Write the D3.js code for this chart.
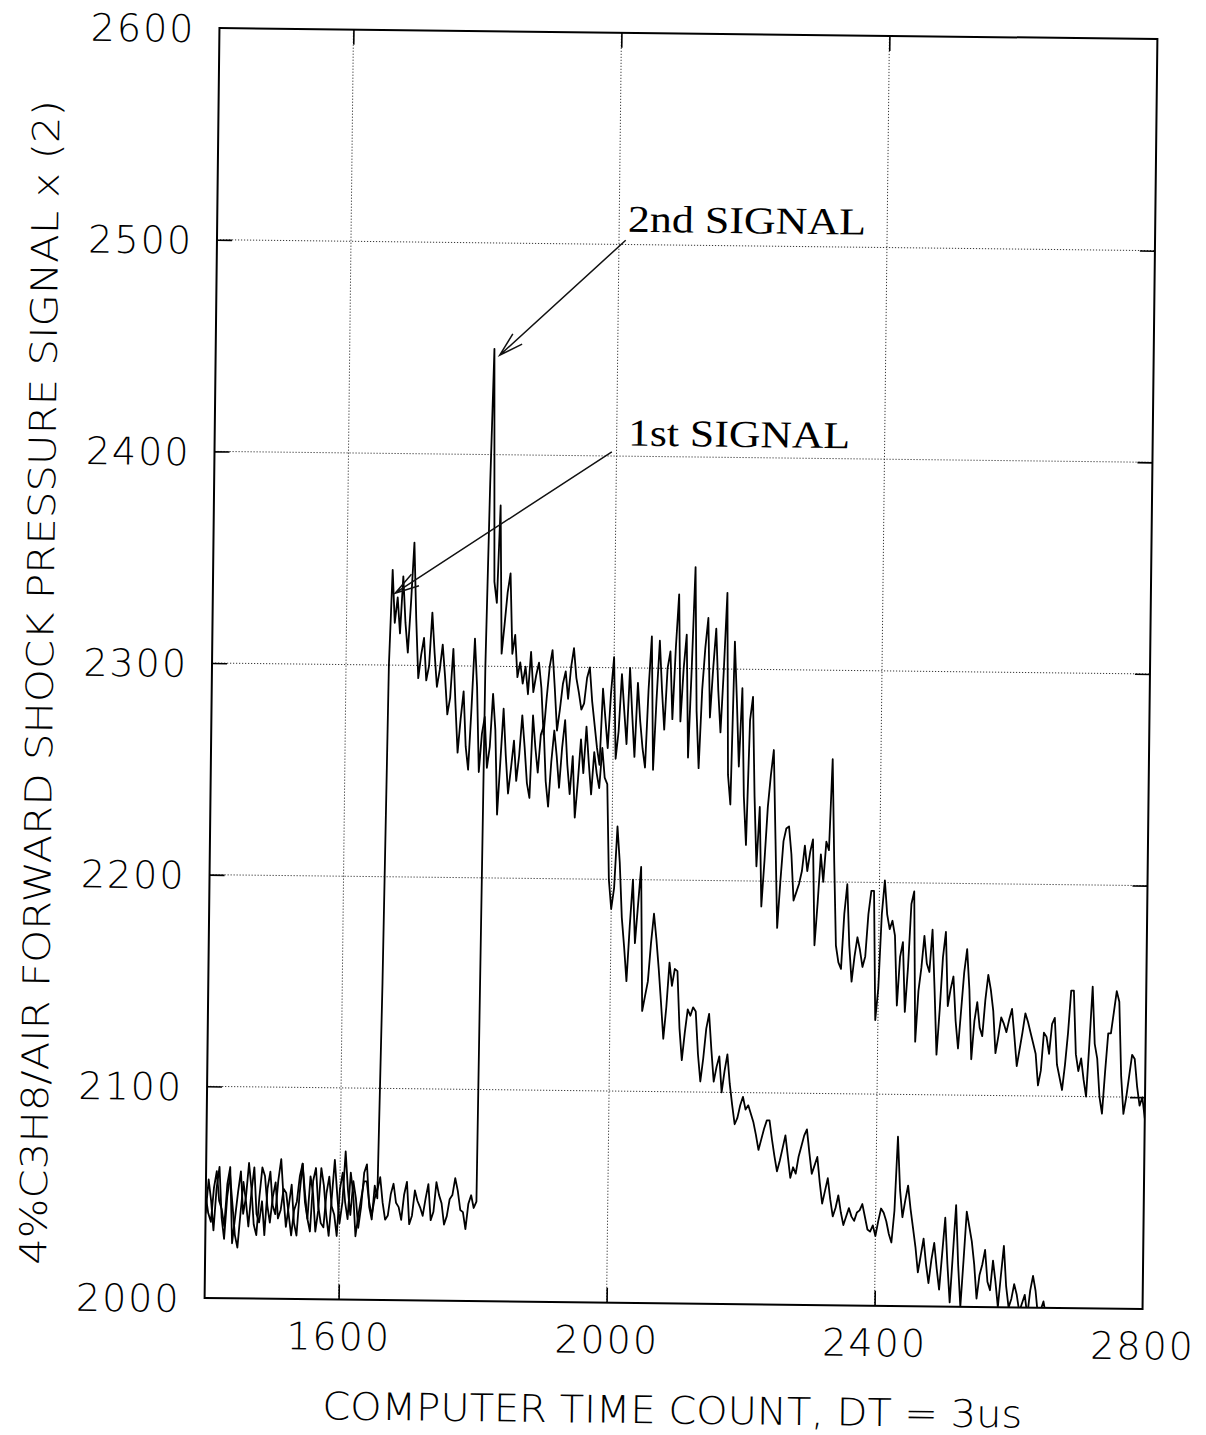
<!DOCTYPE html>
<html>
<head>
<meta charset="utf-8">
<script src="https://cdn.jsdelivr.net/npm/d3@7"></script>
<style>
  html, body { margin: 0; padding: 0; background: #fff; }
  svg { display: block; }
  .plot-font { font-family: "DejaVu Sans", "Liberation Sans", sans-serif; font-weight: 200; fill: #000; }
  .note-font { font-family: "Liberation Serif", "DejaVu Serif", serif; fill: #000; }
</style>
</head>
<body>
<svg id="chart" width="1206" height="1435"></svg>
<script>
// Sampling of the time-count axis used by both records
const timeStart = 1400;
const timeStep = 4;

// Pressure record of the 1st gauge (computer counts, x2), one row per 40 counts
const firstSignal = [
  2040, 2056, 2046, 2032, 2052, 2062, 2038, 2028, 2048, 2058,
  2044, 2030, 2024, 2040, 2055, 2046, 2034, 2050, 2062, 2040,
  2036, 2046, 2030, 2052, 2060, 2044, 2040, 2056, 2066, 2048,
  2034, 2044, 2054, 2036, 2030, 2050, 2064, 2046, 2038, 2058,
  2050, 2032, 2042, 2062, 2054, 2040, 2030, 2048, 2066, 2050,
  2036, 2046, 2070, 2052, 2040, 2056, 2048, 2034, 2044, 2060,
  2064, 2044, 2038, 2054, 2048, 2150, 2300, 2345, 2320, 2332,
  2315, 2342, 2320, 2306, 2330, 2358, 2322, 2294, 2305, 2313,
  2293, 2300, 2325, 2306, 2290, 2298, 2310, 2295, 2277, 2285,
  2308, 2282, 2259, 2275, 2288, 2262, 2251, 2280, 2313, 2290,
  2250, 2268, 2276, 2252, 2262, 2287, 2270, 2230, 2255, 2280,
  2258, 2240, 2252, 2265, 2246, 2258, 2277, 2262, 2245, 2238,
  2277, 2262, 2250, 2268, 2272, 2246, 2234, 2255, 2270, 2258,
  2243, 2262, 2275, 2254, 2240, 2258, 2229, 2246, 2266, 2250,
  2272, 2255, 2240, 2260, 2250, 2243, 2262, 2248, 2245, 2200,
  2186, 2196, 2225, 2208, 2182, 2168, 2152, 2178, 2200, 2170,
  2188, 2206, 2138, 2145, 2152, 2170, 2184, 2172, 2158, 2142,
  2125, 2140, 2161, 2150, 2158, 2157, 2130, 2115, 2128, 2139,
  2136, 2140, 2138, 2118, 2105, 2116, 2130, 2137, 2120, 2105,
  2112, 2117, 2100, 2110, 2118, 2104, 2094, 2085, 2088, 2094,
  2098, 2092, 2094, 2090, 2086, 2080, 2073, 2078, 2083, 2087,
  2087, 2078, 2070, 2063, 2068, 2074, 2080, 2070, 2060, 2065,
  2062, 2070, 2075, 2080, 2083, 2072, 2062, 2066, 2070, 2058,
  2048, 2054, 2060, 2050, 2042, 2046, 2052, 2044, 2038, 2042,
  2046, 2042, 2040, 2044, 2045, 2048, 2042, 2036, 2035, 2038,
  2033, 2040, 2046, 2044, 2040, 2034, 2030, 2045, 2080, 2055,
  2042, 2050, 2057, 2046, 2037, 2028, 2016, 2024, 2032, 2020,
  2011, 2022, 2030, 2018, 2008, 2025, 2042, 2020, 2002, 2025,
  2048, 2020, 2000, 2022, 2045, 2038, 2031, 2020, 2004, 2015,
  2020, 2027, 2012, 2008, 2022, 2012, 2000, 2015, 2029, 2010,
  2000, 2004, 2011, 2006, 1998, 2002, 2006, 1996, 2008, 2015,
  2008, 1996, 1999, 2003, 1996, 1988, 1992, 1985, 1980
];

// Pressure record of the 2nd gauge (computer counts, x2), one row per 40 counts
const secondSignal = [
  2048, 2040, 2036, 2052, 2060, 2046, 2042, 2034, 2054, 2062,
  2026, 2038, 2050, 2060, 2040, 2048, 2064, 2052, 2035, 2030,
  2048, 2062, 2058, 2044, 2036, 2048, 2055, 2038, 2042, 2052,
  2050, 2040, 2030, 2042, 2046, 2058, 2064, 2050, 2038, 2032,
  2056, 2062, 2044, 2036, 2034, 2050, 2058, 2044, 2040, 2030,
  2052, 2060, 2046, 2038, 2060, 2050, 2030, 2040, 2048, 2056,
  2056, 2046, 2040, 2048, 2052, 2058, 2046, 2038, 2040, 2050,
  2055, 2046, 2044, 2038, 2050, 2056, 2036, 2040, 2052, 2047,
  2044, 2040, 2048, 2055, 2038, 2042, 2056, 2050, 2046, 2036,
  2040, 2048, 2050, 2058, 2052, 2043, 2042, 2034, 2046, 2050,
  2044, 2047, 2300, 2386, 2450, 2340, 2330, 2376, 2306, 2320,
  2335, 2344, 2306, 2315, 2295, 2302, 2292, 2300, 2287, 2307,
  2288, 2296, 2302, 2290, 2268, 2285, 2300, 2308, 2290, 2270,
  2280, 2292, 2298, 2285, 2300, 2309, 2295, 2288, 2280, 2283,
  2295, 2300, 2284, 2273, 2262, 2254, 2290, 2276, 2262, 2288,
  2305, 2257, 2270, 2297, 2280, 2264, 2300, 2278, 2258, 2293,
  2275, 2262, 2253, 2290, 2315, 2252, 2285, 2313, 2290, 2271,
  2300, 2308, 2276, 2310, 2335, 2275, 2300, 2316, 2258, 2300,
  2348, 2280, 2253, 2290, 2310, 2324, 2277, 2300, 2319, 2290,
  2270, 2300, 2336, 2250, 2236, 2313, 2285, 2254, 2291, 2240,
  2217, 2276, 2287, 2240, 2207, 2235, 2188, 2210, 2235, 2250,
  2262, 2220, 2178, 2200, 2219, 2225, 2226, 2213, 2191, 2195,
  2199, 2205, 2217, 2205, 2214, 2220, 2170, 2190, 2213, 2200,
  2219, 2215, 2258, 2210, 2170, 2162, 2159, 2185, 2199, 2170,
  2153, 2165, 2174, 2168, 2160, 2165, 2185, 2196, 2196, 2135,
  2150, 2185, 2201, 2185, 2178, 2182, 2175, 2142, 2165, 2172,
  2139, 2160, 2190, 2196, 2125, 2149, 2160, 2175, 2162, 2158,
  2178, 2150, 2119, 2140, 2165, 2177, 2142, 2150, 2156, 2135,
  2122, 2140, 2158, 2169, 2150, 2117, 2135, 2144, 2132, 2128,
  2145, 2157, 2150, 2140, 2120, 2128, 2137, 2134, 2130, 2136,
  2141, 2128, 2114, 2122, 2130, 2139, 2135, 2130, 2125, 2120,
  2105, 2112, 2130, 2128, 2120, 2134, 2137, 2115, 2109, 2103,
  2115, 2130, 2150, 2150, 2120, 2112, 2118, 2108, 2100, 2125,
  2152, 2125, 2118, 2100, 2092, 2112, 2130, 2130, 2140, 2150,
  2145, 2110, 2092, 2100, 2110, 2120, 2118, 2105, 2096, 2100,
  2090
];

// Axis ticks, grid and titles
const xDomain = [1400, 2800];
const yDomain = [2000, 2600];
const xTickValues = [1600, 2000, 2400, 2800];
const yTickValues = [2000, 2100, 2200, 2300, 2400, 2500, 2600];
const xGridValues = [1600, 2000, 2400];
const yGridValues = [2100, 2200, 2300, 2400, 2500];
const xTitle = "COMPUTER TIME COUNT, DT = 3us";
const yTitle = "4%C3H8/AIR FORWARD SHOCK PRESSURE SIGNAL x (2)";

// Callouts: label and the [time, pressure] point each arrow marks
const noteLabels = ["2nd SIGNAL", "1st SIGNAL"];
const noteTargets = [[1824, 2447], [1672, 2334]];

// ---------------------------------------------------------------
const W = 1206, H = 1435;
const plot = { left: 212, top: 33.5, width: 938, height: 1270 };
const tilt = 0.67; // the sheet sits slightly askew

const svg = d3.select("#chart");
svg.append("rect").attr("width", W).attr("height", H).attr("fill", "#fff");

const page = svg.append("g")
  .attr("transform", `rotate(${tilt}, ${plot.left + plot.width / 2}, ${plot.top + plot.height / 2})`);
const g = page.append("g").attr("transform", `translate(${plot.left},${plot.top})`);

const x = d3.scaleLinear().domain(xDomain).range([0, plot.width]);
const y = d3.scaleLinear().domain(yDomain).range([plot.height, 0]);

// dotted grid
g.append("g").selectAll("line.gx").data(xGridValues).join("line")
  .attr("x1", d => x(d)).attr("x2", d => x(d))
  .attr("y1", 0).attr("y2", plot.height)
  .attr("stroke", "#222").attr("stroke-width", 0.9).attr("stroke-dasharray", "1.2,1.8");
g.append("g").selectAll("line.gy").data(yGridValues).join("line")
  .attr("y1", d => y(d)).attr("y2", d => y(d))
  .attr("x1", 0).attr("x2", plot.width)
  .attr("stroke", "#222").attr("stroke-width", 0.9).attr("stroke-dasharray", "1.2,1.8");

// inward tick marks on all four sides
const tickLen = 15;
function styleTicks(sel) {
  sel.select(".domain").remove();
  sel.selectAll(".tick text").remove();
  sel.selectAll(".tick line").attr("stroke", "#000").attr("stroke-width", 1.6);
}
g.append("g").attr("transform", `translate(0,${plot.height})`)
  .call(d3.axisBottom(x).tickValues(xGridValues).tickSizeInner(-tickLen).tickSizeOuter(0)).call(styleTicks);
g.append("g")
  .call(d3.axisTop(x).tickValues(xGridValues).tickSizeInner(-tickLen).tickSizeOuter(0)).call(styleTicks);
g.append("g")
  .call(d3.axisLeft(y).tickValues(yGridValues).tickSizeInner(-tickLen).tickSizeOuter(0)).call(styleTicks);
g.append("g").attr("transform", `translate(${plot.width},0)`)
  .call(d3.axisRight(y).tickValues(yGridValues).tickSizeInner(-tickLen).tickSizeOuter(0)).call(styleTicks);

// tick labels
function styleLabels(sel) {
  sel.select(".domain").remove();
  sel.selectAll(".tick line").remove();
  sel.selectAll(".tick text").attr("class", "plot-font").style("font-size", "38px").attr("fill", "#000");
}
const xLab = g.append("g").attr("transform", `translate(0,${plot.height})`)
  .call(d3.axisBottom(x).tickValues(xTickValues).tickFormat(d3.format("d")).tickSize(0).tickPadding(23))
  .call(styleLabels);
xLab.selectAll(".tick text").attr("dy", "0.72em").attr("letter-spacing", "2px");
const yLab = g.append("g")
  .call(d3.axisLeft(y).tickValues(yTickValues).tickFormat(d3.format("d")).tickSize(0).tickPadding(24))
  .call(styleLabels);
yLab.selectAll(".tick text").attr("dy", "0.36em").attr("letter-spacing", "2px");

// traces
const clipId = "plot-clip";
g.append("clipPath").attr("id", clipId).append("rect")
  .attr("width", plot.width).attr("height", plot.height);

const line = d3.line()
  .x((d, i) => x(timeStart + i * timeStep))
  .y(d => y(d));

const traces = g.append("g").attr("clip-path", `url(#${clipId})`);
[firstSignal, secondSignal].forEach(series => {
  traces.append("path").datum(series)
    .attr("d", line)
    .attr("fill", "none").attr("stroke", "#000")
    .attr("stroke-width", 1.8).attr("stroke-linejoin", "round");
});

// frame
g.append("rect").attr("width", plot.width).attr("height", plot.height)
  .attr("fill", "none").attr("stroke", "#000").attr("stroke-width", 2);

// axis titles
g.append("text").attr("class", "plot-font")
  .attr("x", plot.width / 2).attr("y", plot.height + 120)
  .attr("text-anchor", "middle").style("font-size", "38px")
  .attr("textLength", 700).attr("lengthAdjust", "spacingAndGlyphs")
  .text(xTitle);
g.append("text").attr("class", "plot-font")
  .attr("transform", `translate(${40 - plot.left + 13},${690 - plot.top}) rotate(-90)`)
  .attr("text-anchor", "middle").style("font-size", "37px")
  .attr("textLength", 1165).attr("lengthAdjust", "spacingAndGlyphs")
  .text(yTitle);

// callouts with open arrowheads
const noteText = [[2013, 2506], [2017, 2405]];
const noteFrom = [[2010, 2502], [1993, 2402]];
const noteWidth = [238, 222];
noteLabels.forEach((label, k) => {
  g.append("text").attr("class", "note-font")
    .attr("x", x(noteText[k][0])).attr("y", y(noteText[k][1]))
    .style("font-size", "38px")
    .attr("textLength", noteWidth[k]).attr("lengthAdjust", "spacingAndGlyphs")
    .text(label);
  const x0 = x(noteFrom[k][0]), y0 = y(noteFrom[k][1]);
  const x1 = x(noteTargets[k][0]), y1 = y(noteTargets[k][1]);
  const a = Math.atan2(y0 - y1, x0 - x1);
  const head = 25, spread = 16 * Math.PI / 180;
  const path = d3.path();
  path.moveTo(x0, y0); path.lineTo(x1, y1);
  path.moveTo(x1 + head * Math.cos(a - spread), y1 + head * Math.sin(a - spread));
  path.lineTo(x1, y1);
  path.lineTo(x1 + head * Math.cos(a + spread), y1 + head * Math.sin(a + spread));
  g.append("path").attr("d", path.toString())
    .attr("fill", "none").attr("stroke", "#111").attr("stroke-width", 1.5);
});
</script>
</body>
</html>
